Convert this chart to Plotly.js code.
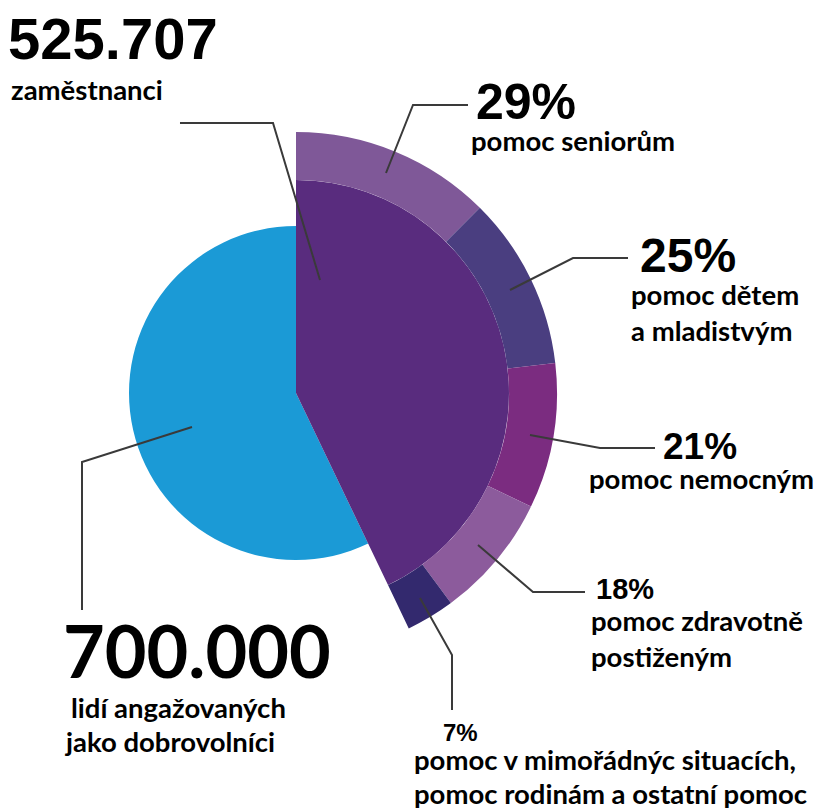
<!DOCTYPE html>
<html>
<head>
<meta charset="utf-8">
<script src="https://cdn.plot.ly/plotly-3.0.1.min.js"></script>
<style>html,body{margin:0;padding:0;background:#fff;}#chart{width:821px;height:809px;}</style>
</head>
<body>
<div id="chart"></div>
<script>
// ---- data ----
const groupLabels = ["zaměstnanci", "dobrovolníci"];
const groupValues = [525707, 700000];
const groupText = ["525.707", "700.000"];
const ringLabels = ["pomoc seniorům", "pomoc dětem a mladistvým", "pomoc nemocným", "pomoc zdravotně postiženým", "pomoc v mimořádnýc situacích, pomoc rodinám a ostatní pomoc"];
const ringPercent = [29, 25, 21, 18, 7];

// ---- styling ----
const W = 821, H = 809;
const CX = 296, CY = 393;
const R_BLUE = 167, R_PURPLE = 213, R_RING = 261;
const BLUE = "#1b9ad6", PURPLE = "#592c7e";
const ringColors = ["#7f5898", "#4a3e80", "#7b2c80", "#8c5b9c", "#33296e"];
const CLEAR = "rgba(0,0,0,0)";

function dom(r) {
  return {x: [(CX - r) / W, (CX + r) / W], y: [1 - (CY + r) / H, 1 - (CY - r) / H]};
}
const base = {type: "pie", sort: false, direction: "clockwise", rotation: 0,
  textinfo: "none", hoverinfo: "label+value", showlegend: false,
  marker: {line: {width: 0}}};

const ringValues = ringPercent.map(p => p / 100 * groupValues[0]);

const traces = [
  Object.assign({}, base, {labels: groupLabels, values: groupValues, domain: dom(R_BLUE),
    marker: {colors: [CLEAR, BLUE], line: {width: 0}}}),
  Object.assign({}, base, {labels: groupLabels, values: groupValues, domain: dom(R_PURPLE),
    marker: {colors: [PURPLE, CLEAR], line: {width: 0}}}),
  Object.assign({}, base, {labels: ringLabels.concat([groupLabels[1]]), values: ringValues.concat([groupValues[1]]),
    domain: dom(R_RING), hole: R_PURPLE / R_RING,
    marker: {colors: ringColors.concat([CLEAR]), line: {width: 0}}})
];

function P(x, y) { return (x / W).toFixed(5) + "," + (1 - y / H).toFixed(5); }
function path(pts) { return "M" + pts.map(p => P(p[0], p[1])).join(" L"); }
const lineStyle = {color: "#3a3a3a", width: 2};
const leaders = [
  [[180,123],[273,123],[320,280]],
  [[468,105],[413,105],[386,173]],
  [[628,258],[573,258],[510,290]],
  [[655,448],[600,448],[530,435]],
  [[585,592],[533,592],[478,545]],
  [[420,598],[452,655],[452,710]],
  [[192,427],[82,462],[82,610]]
];
const shapes = leaders.map(pts => ({type: "path", xref: "paper", yref: "paper", path: path(pts), line: lineStyle}));

const NUM = "Liberation Sans, Arial, sans-serif";
const TXT = "Lato, Noto Sans, sans-serif";
const BS = 27.5;
function ann(text, x, y, size, family, weight) {
  return {text: text, xref: "paper", yref: "paper", x: x / W, y: 1 - y / H,
    xanchor: "left", yanchor: "middle", showarrow: false,
    font: {family: family, size: size, color: "#000", weight: weight || 700}};
}
const annotations = [
  ann(groupText[0], 6, 38, 58, NUM),
  ann(groupLabels[0], 9, 89, BS, TXT),
  ann(ringPercent[0] + "%", 474, 102, 50, NUM),
  ann("pomoc seniorům", 469, 140, BS, TXT),
  ann(ringPercent[1] + "%", 638, 256, 48, NUM),
  ann("pomoc dětem", 629, 294, BS, TXT),
  ann("a mladistvým", 629, 330, BS, TXT),
  ann(ringPercent[2] + "%", 661, 446, 37, NUM),
  ann("pomoc nemocným", 587, 478, BS, TXT),
  ann(ringPercent[3] + "%", 594, 589, 29, NUM),
  ann("pomoc zdravotně", 589, 620, BS, TXT),
  ann("postiženým", 589, 656, BS, TXT),
  ann(ringPercent[4] + "%", 441, 732, 24, NUM),
  ann("pomoc v mimořádnýc situacích,", 412, 759, BS, TXT),
  ann("pomoc rodinám a ostatní pomoc", 412, 793, BS, TXT),
  ann(groupText[1], 61, 650, 72, TXT),
  ann("lidí angažovaných", 69, 707, BS, TXT),
  ann("jako dobrovolníci", 62, 741, BS, TXT)
];

Plotly.newPlot("chart", traces, {
  width: W, height: H, margin: {l: 0, r: 0, t: 0, b: 0},
  paper_bgcolor: "#fff", plot_bgcolor: "#fff", showlegend: false,
  shapes: shapes, annotations: annotations
}, {displayModeBar: false, staticPlot: true});
</script>
</body>
</html>
